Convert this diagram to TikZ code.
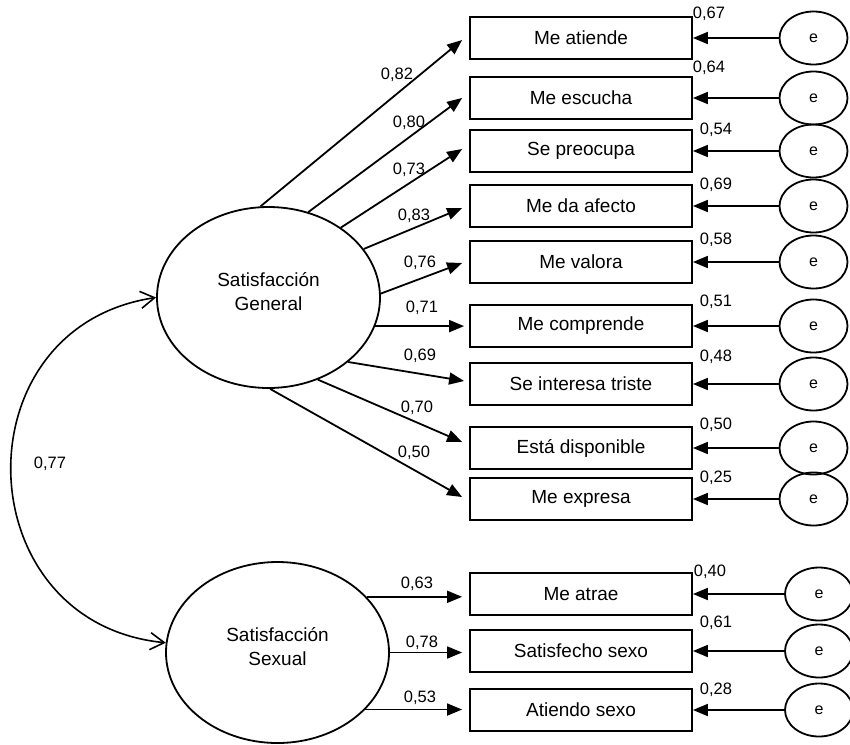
\documentclass[tikz,border=0pt]{standalone}
\usepackage{fontspec}
\setmainfont{Liberation Sans}
\usetikzlibrary{arrows.meta,shapes.geometric,calc}
\begin{document}
\begin{tikzpicture}[x=1pt,y=-1pt,
 obs/.style={draw, line width=1.8pt, minimum width=222pt, minimum height=42pt, inner sep=0pt, font=\fontsize{19}{23}\selectfont},
 err/.style={draw, ellipse, line width=1.8pt, minimum width=68pt, minimum height=53pt, inner sep=0pt, font=\fontsize{16}{19}\selectfont},
 lat/.style={draw, ellipse, line width=1.8pt, minimum width=223pt, minimum height=181pt, inner sep=0pt},
 lattext/.style={align=center, font=\fontsize{19}{24}\selectfont},
 num/.style={font=\fontsize{16.5}{20}\selectfont, inner sep=0pt},
 load/.style={line width=1.8pt, -{Triangle[length=15pt,width=12pt]}},
 cov/.style={line width=1.6pt, {Straight Barb[length=14pt,width=17pt]}-{Straight Barb[length=14pt,width=17pt]}}
]
\useasboundingbox (0,0) rectangle (850,744);

% latent variables
\node[lat] (gen) at (268.5,297.5) {};
\node[lattext] at ($(gen)+(0,-6)$) {Satisfacción\\General};
\node[lat] (sex) at (277.5,652.5) {};
\node[lattext] at ($(sex)+(0,-6)$) {Satisfacción\\Sexual};

% observed variables
\node[obs] (m1) at (581,38) {Me atiende};
\node[obs] (m2) at (581,98) {Me escucha};
\node[obs] (m3) at (581,151) {Se preocupa};
\node[obs] (m4) at (581,206) {Me da afecto};
\node[obs] (m5) at (581,262) {Me valora};
\node[obs] (m6) at (581,326) {Me comprende};
\node[obs] (m7) at (581,384) {Se interesa triste};
\node[obs] (m8) at (581,448) {Está disponible};
\node[obs] (m9) at (581,499) {Me expresa};
\node[obs] (m10) at (581,594) {Me atrae};
\node[obs] (m11) at (581,651) {Satisfecho sexo};
\node[obs] (m12) at (581,710) {Atiendo sexo};

% error terms
\node[err] (e1) at (813.5,38) {e};
\node[err] (e2) at (813.5,98) {e};
\node[err] (e3) at (813.5,151) {e};
\node[err] (e4) at (813.5,206) {e};
\node[err] (e5) at (813.5,262) {e};
\node[err] (e6) at (813.5,326) {e};
\node[err] (e7) at (813.5,384) {e};
\node[err] (e8) at (813.5,448) {e};
\node[err] (e9) at (813.5,499) {e};
\node[err] (e10) at (819,594) {e};
\node[err] (e11) at (819,651) {e};
\node[err] (e12) at (819,710) {e};

\foreach \i in {1,...,12} {\draw[load] (e\i) -- (m\i.east);}

% loadings
\draw[load] (gen.95.4) -- ($(m1.west)+(-7,2)$);
\draw[load] (gen.65) -- ($(m2.west)+(-7,0)$);
\draw[load] (gen.44.6) -- ($(m3.west)+(-7,-2)$);
\draw[load] (gen.27.2) -- ($(m4.west)+(-7,2)$);
\draw[load] (gen.2.8) -- ($(m5.west)+(-7,1)$);
\draw[load] (gen.-15.5) -- ($(gen.-15.5 -| m6.west)+(-5,0)$);
\draw[load] (gen.-39.5) -- ($(m7.west)+(-5,-3)$);
\draw[load] (gen.-59.3) -- ($(m8.west)+(-7,-6)$);
\draw[load] (gen.-89) -- ($(m9.west)+(-7,-2)$);
\draw[load] (sex.32.7) -- ($(sex.32.7 -| m10.west)+(-7,0)$);
\draw[load] (sex.east) -- ($(sex.east -| m11.west)+(-7,0)$);
\draw[load] (sex.-33.8) -- ($(sex.-33.8 -| m12.west)+(-7,0)$);

% covariance
\draw[cov] (gen.west) .. controls +(171.5:201) and +(185.6:201) .. (sex.175);

% loading labels
\node[num] at (397,75) {0,82};
\node[num] at (409,123) {0,80};
\node[num] at (409,170) {0,73};
\node[num] at (414,216) {0,83};
\node[num] at (420,263) {0,76};
\node[num] at (422,308) {0,71};
\node[num] at (420,356) {0,69};
\node[num] at (417,408) {0,70};
\node[num] at (414,453) {0,50};
\node[num] at (417,584) {0,63};
\node[num] at (422,643) {0,78};
\node[num] at (420,698) {0,53};
\node[num] at (50,464) {0,77};

% error labels
\node[num] at (709,14) {0,67};
\node[num] at (709,68) {0,64};
\node[num] at (716,130) {0,54};
\node[num] at (716,185) {0,69};
\node[num] at (716,240) {0,58};
\node[num] at (716,302) {0,51};
\node[num] at (716,357) {0,48};
\node[num] at (716,425) {0,50};
\node[num] at (716,478) {0,25};
\node[num] at (710,572) {0,40};
\node[num] at (716,623) {0,61};
\node[num] at (716,690) {0,28};
\end{tikzpicture}
\end{document}
